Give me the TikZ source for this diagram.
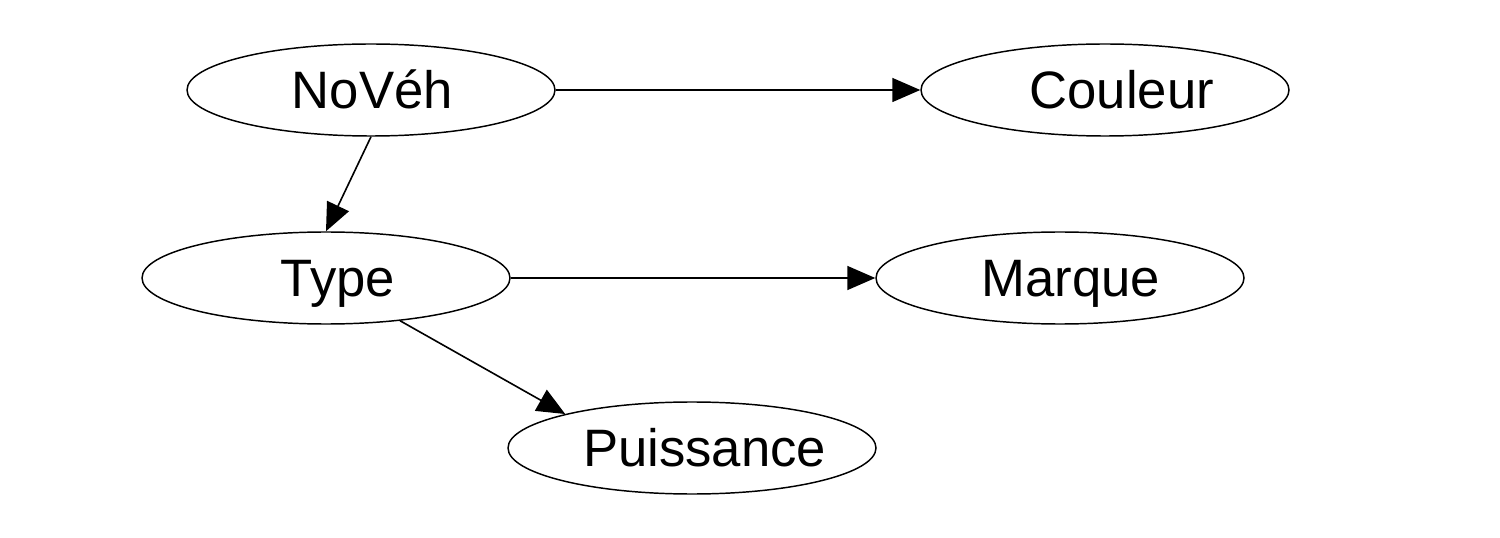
\documentclass[tikz,border=0pt]{standalone}
\usepackage{fontspec}
\setmainfont{Liberation Sans}
\usetikzlibrary{shapes.geometric,arrows.meta}
\newcommand{\shifttext}[2]{\makebox[0pt]{\hspace*{#1}#2}}
\begin{document}
\begin{tikzpicture}[x=0.75pt,y=-0.75pt,
  ent/.style={draw,ellipse,line width=1.1pt,minimum width=276pt,minimum height=69pt,inner sep=0pt,
    font=\fontsize{39.5}{40}\selectfont,text height=27.5pt,text depth=0pt},
  conn/.style={line width=1.2pt,-{Triangle[length=21pt,width=18pt]}}]
\useasboundingbox (0,0) rectangle (1500,538);
\node[ent] (noveh) at (371,90) {\shifttext{2pt}{NoVéh}};
\node[ent] (couleur) at (1105,90) {\shifttext{25pt}{Couleur}};
\node[ent] (type) at (326,278) {\shifttext{18pt}{Type}};
\node[ent] (marque) at (1060,278) {\shifttext{16pt}{Marque}};
\node[ent] (puiss) at (692,448) {\shifttext{19pt}{Puissance}};
\draw[conn] (noveh.east) -- (couleur.west);
\draw[conn] (type.east) -- (marque.west);
\draw[conn] (noveh.south) -- (type.north);
\draw[conn] (type.-30.8) -- (puiss.165.8);
\end{tikzpicture}
\end{document}
